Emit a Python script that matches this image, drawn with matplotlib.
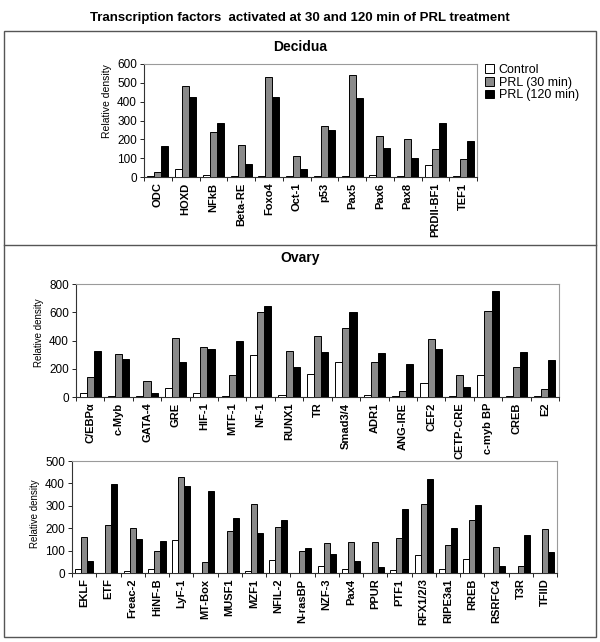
import matplotlib
matplotlib.use("Agg")
import matplotlib.pyplot as plt
import numpy as np
from matplotlib.patches import Rectangle, Patch
from matplotlib.lines import Line2D

plt.rcParams['font.family'] = ['Liberation Sans', 'DejaVu Sans']

# ---------------- data ----------------
dec_labels = ["ODC", "HOXD", "NFkB", "Beta-RE", "Foxo4", "Oct-1", "p53", "Pax5",
              "Pax6", "Pax8", "PRDII-BF1", "TEF1"]
dec_ctrl = [3, 44, 12, 3, 4, 3, 4, 4, 8, 4, 65, 4]
dec_30 = [26, 481, 237, 172, 529, 113, 269, 543, 219, 204, 149, 96]
dec_120 = [166, 425, 287, 71, 425, 44, 248, 419, 154, 101, 285, 191]

ov1_labels = ["C/EBP\u03b1", "c-Myb", "GATA-4", "GRE", "HIF-1", "MTF-1", "NF-1", "RUNX1",
              "TR", "Smad3/4", "ADR1", "ANG-IRE", "CEF2", "CETP-CRE", "c-myb BP",
              "CREB", "E2"]
ov1_ctrl = [30, 9, 9, 65, 30, 9, 295, 14, 161, 248, 14, 7, 101, 7, 154, 7, 7]
ov1_30 = [143, 302, 112, 419, 351, 157, 601, 325, 435, 491, 248, 42, 409, 154, 608, 213, 54]
ov1_120 = [325, 267, 26, 250, 339, 398, 643, 215, 318, 604, 309, 232, 339, 73, 749, 318, 262]

ov2_labels = ["EKLF", "ETF", "Freac-2", "HiNF-B", "LyF-1", "MT-Box", "MUSF1", "MZF1",
              "NFIL-2", "N-rasBP", "NZF-3", "Pax4", "PPUR", "PTF1", "RFX1/2/3",
              "RIPE3a1", "RREB", "RSRFC4", "T3R", "TFIID"]
ov2_ctrl = [19, 2, 7, 16, 147, 2, 2, 7, 60, 2, 33, 18, 1, 15, 80, 18, 64, 1, 1, 1]
ov2_30 = [161, 213, 199, 97, 427, 48, 186, 307, 205, 98, 132, 138, 138, 158, 308, 126, 238, 115, 30, 196]
ov2_120 = [55, 396, 152, 141, 388, 366, 246, 180, 238, 110, 86, 52, 25, 286, 420, 201, 304, 30, 168, 94]

series_names = ["Control", "PRL (30 min)", "PRL (120 min)"]
colors = ["white", "#8a8a8a", "black"]

W, H = 600, 642
fig = plt.figure(figsize=(W / 100, H / 100), dpi=100)


def px_axes(left, top, right, bottom):
    return fig.add_axes([left / W, 1 - bottom / H, (right - left) / W, (bottom - top) / H])


def draw(ax, labels, vals, ymax, ystep, ylab_size, ylab_x, ylab_y):
    n = len(labels)
    x = np.arange(n)
    bw = 0.25
    for i, v in enumerate(vals):
        ax.bar(x + (i - 1) * bw, v, width=bw, color=colors[i], edgecolor="black",
               linewidth=0.7, zorder=3)
    ax.set_xlim(-0.5, n - 0.5)
    ax.set_ylim(0, ymax)
    ax.set_yticks(np.arange(0, ymax + 1, ystep))
    ax.set_xticks(x)
    ax.set_xticklabels(labels, rotation=90, fontsize=8, fontweight="bold")
    ax.set_xticks(np.arange(-0.5, n, 1), minor=True)
    ax.tick_params(axis="x", which="major", length=0, pad=4)
    ax.tick_params(axis="x", which="minor", length=3, width=0.6, direction="out")
    ax.tick_params(axis="y", labelsize=8.5, length=3, width=0.6, pad=2)
    for s in ["top", "right"]:
        ax.spines[s].set_color("#9a9a9a")
        ax.spines[s].set_linewidth(0.8)
    for s in ["left", "bottom"]:
        ax.spines[s].set_color("#333333")
        ax.spines[s].set_linewidth(0.8)
    ax.set_ylabel("Relative density", fontsize=ylab_size)
    ax.yaxis.set_label_coords(ylab_x, ylab_y)


ax1 = px_axes(144, 64, 477, 177)
draw(ax1, dec_labels, [dec_ctrl, dec_30, dec_120], 600, 100, 7.5, -0.095, 0.67)

ax2 = px_axes(76, 284, 559, 397)
draw(ax2, ov1_labels, [ov1_ctrl, ov1_30, ov1_120], 800, 200, 7, -0.066, 0.57)

ax3 = px_axes(72, 461, 557, 573)
draw(ax3, ov2_labels, [ov2_ctrl, ov2_30, ov2_120], 500, 100, 7, -0.066, 0.53)

# legend
handles = [Patch(facecolor=c, edgecolor="black", linewidth=0.7) for c in colors]
fig.legend(handles, series_names, loc="upper left", bbox_to_anchor=(480 / W, 1 - 59 / H),
           frameon=False, fontsize=9, handlelength=0.7, handleheight=0.7,
           handletextpad=0.4, labelspacing=0.05, borderaxespad=0)

# frames
fig.add_artist(Rectangle((4 / W, 1 - 637 / H), 592 / W, 606 / H, transform=fig.transFigure,
                         fill=False, edgecolor="#555555", linewidth=1.0))
fig.add_artist(Line2D([4 / W, 596 / W], [1 - 245 / H, 1 - 245 / H], transform=fig.transFigure,
                      color="#555555", linewidth=1.0))

fig.text(0.5, 1 - 18 / H, "Transcription factors  activated at 30 and 120 min of PRL treatment",
         ha="center", va="center", fontsize=9.5, fontweight="bold")
fig.text(0.5, 1 - 47 / H, "Decidua", ha="center", va="center", fontsize=10, fontweight="bold")
fig.text(0.5, 1 - 258 / H, "Ovary", ha="center", va="center", fontsize=10, fontweight="bold")

fig.savefig("out.png", dpi=100)
